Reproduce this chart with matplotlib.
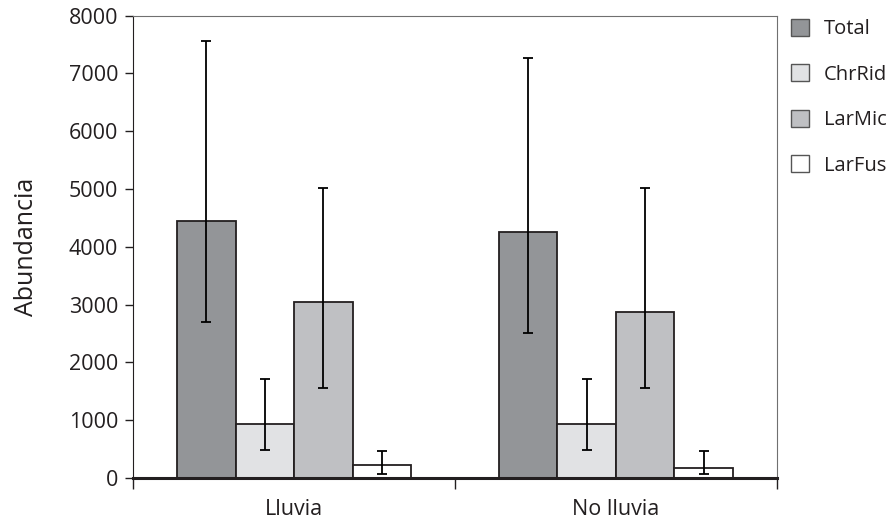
import matplotlib.pyplot as plt
from matplotlib.patches import Patch
import numpy as np

plt.rcParams['font.family'] = ['Open Sans', 'DejaVu Sans']

groups = ['Lluvia', 'No lluvia']
series = ['Total', 'ChrRid', 'LarMic', 'LarFus']
colors = ['#939598', '#e1e2e4', '#bfc0c3', '#ffffff']

# mean values per series, one entry per group
means = {
    'Total':  [4446, 4251],
    'ChrRid': [940, 940],
    'LarMic': [3040, 2872],
    'LarFus': [225, 178],
}
# error bar ends (lower, upper)
err_low = {
    'Total':  [2704, 2514],
    'ChrRid': [490, 490],
    'LarMic': [1562, 1562],
    'LarFus': [64, 64],
}
err_high = {
    'Total':  [7566, 7261],
    'ChrRid': [1718, 1718],
    'LarMic': [5012, 5012],
    'LarFus': [472, 472],
}

fig = plt.figure(figsize=(8.92, 5.22), dpi=100)
ax = fig.add_axes([133.3 / 892, 1 - 478 / 522, 643.4 / 892, 462.3 / 522])

dark = '#231f20'
x = np.arange(len(groups)) + 0.5
w = 0.182
for i, name in enumerate(series):
    xs = x + (i - 1.5) * w
    m = np.array(means[name])
    lo = m - np.array(err_low[name])
    hi = np.array(err_high[name]) - m
    ax.bar(xs, m, width=w, color=colors[i], edgecolor=dark, linewidth=1.3, zorder=2)
    ax.errorbar(xs, m, yerr=[lo, hi], fmt='none', ecolor='black',
                elinewidth=1.3, capsize=3.8, capthick=1.3, zorder=3)

ax.set_xlim(0, 2)
ax.set_ylim(0, 8000)
ax.set_yticks(range(0, 8001, 1000))
ax.set_xticks([0, 1, 2])
ax.set_xticklabels([])
ax.set_xticks(x, minor=True)
ax.set_xticklabels(groups, minor=True)
ax.tick_params(axis='x', which='major', direction='out', length=8, width=1, color=dark)
ax.tick_params(axis='x', which='minor', length=0, labelsize=15.5, pad=15, labelcolor=dark)
ax.tick_params(axis='y', direction='out', length=6, width=1, color=dark,
               labelsize=15.5, labelcolor=dark, pad=5)

ax.spines['left'].set_color(dark)
ax.spines['bottom'].set_color(dark)
ax.spines['bottom'].set_linewidth(2.2)
ax.spines['top'].set_color('#707070')
ax.spines['right'].set_color('#707070')

ax.set_ylabel('Abundancia', fontsize=18, color=dark)
ax.yaxis.set_label_coords(-0.147, 0.5)

handles = [Patch(facecolor=c, edgecolor='#555555', linewidth=1) for c in colors]
fig.legend(handles, series, loc='upper left', bbox_to_anchor=(791 / 892, 1 - 19 / 522),
           frameon=False, fontsize=14.5, handlelength=0.9, handleheight=0.9,
           handletextpad=0.75, labelspacing=1.25, borderpad=0, borderaxespad=0,
           labelcolor=dark)

fig.savefig('out.png', dpi=100)
